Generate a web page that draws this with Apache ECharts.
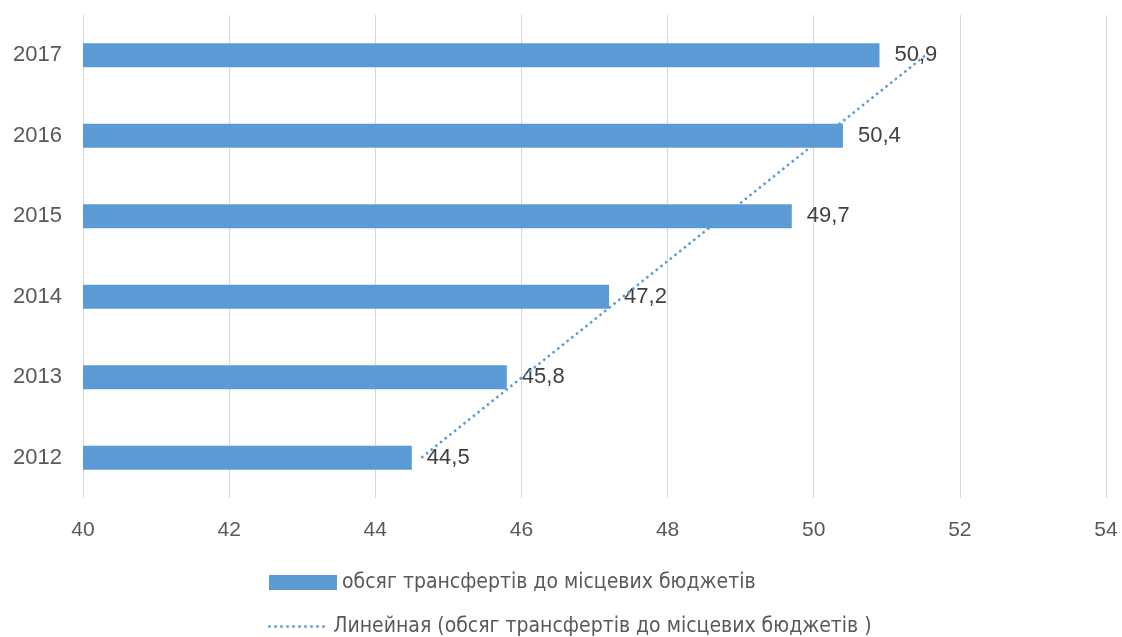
<!DOCTYPE html>
<html>
<head>
<meta charset="utf-8">
<style>
  html, body { margin: 0; padding: 0; background: #fff; }
  #chart { width: 1122px; height: 637px; }
</style>
<script src="https://cdn.jsdelivr.net/npm/echarts@6/dist/echarts.min.js"></script>
</head>
<body>
<div id="chart"></div>
<script>
// Years on the category axis (bottom to top)
const years = ['2012', '2013', '2014', '2015', '2016', '2017'];
// Volume of transfers to local budgets
const transfers = [44.5, 45.8, 47.2, 49.7, 50.4, 50.9];
// Linear trend line: values at the first and last year
const trendEnds = [44.63, 51.53];
// Value axis range and step
const axisMin = 40;
const axisMax = 54;
const axisStep = 2;

const barName = 'обсяг трансфертів до місцевих бюджетів';
const trendName = 'Линейная (обсяг трансфертів до місцевих бюджетів )';

const blue = '#5B9BD5';
const labelFont = 'Liberation Sans, Arial, sans-serif';
const legendFont = 'Liberation Sans Narrow, DejaVu Sans Condensed, Liberation Sans, sans-serif';

const chart = echarts.init(document.getElementById('chart'), null, { renderer: 'canvas' });

const legendText = { color: '#595959', fontSize: 21, fontFamily: legendFont };
const trendDash = [2.5, 3.5];

chart.setOption({
  animation: false,
  backgroundColor: '#ffffff',
  grid: { left: 83, right: 16, top: 15, bottom: 139, containLabel: false },
  xAxis: {
    type: 'value',
    min: axisMin,
    max: axisMax,
    interval: axisStep,
    axisLine: { show: false },
    axisTick: { show: false },
    splitLine: { show: true, lineStyle: { color: '#D9D9D9', width: 1 } },
    axisLabel: { color: '#595959', fontSize: 21, fontFamily: labelFont, margin: 22 }
  },
  yAxis: {
    type: 'category',
    data: years,
    axisLine: { show: false },
    axisTick: { show: false },
    splitLine: { show: false },
    axisLabel: { color: '#595959', fontSize: 22, fontFamily: labelFont, margin: 21 }
  },
  legend: [
    {
      left: 269,
      top: 572,
      padding: 0,
      itemWidth: 68,
      itemHeight: 15,
      itemGap: 0,
      textStyle: legendText,
      data: [{ name: barName, icon: 'rect' }]
    },
    {
      left: 267,
      top: 616,
      padding: 0,
      itemWidth: 60,
      itemHeight: 15,
      itemGap: 0,
      textStyle: legendText,
      data: [{
        name: trendName,
        itemStyle: { opacity: 0 },
        lineStyle: { color: blue, width: 2.5, type: trendDash }
      }]
    }
  ],
  series: [
    {
      name: barName,
      type: 'bar',
      data: transfers,
      barWidth: 24,
      itemStyle: { color: blue },
      label: {
        show: true,
        position: 'right',
        distance: 15,
        color: '#404040',
        fontSize: 22,
        fontFamily: labelFont,
        formatter: p => String(p.value).replace('.', ',')
      },
      z: 2
    },
    {
      name: trendName,
      type: 'line',
      data: [[trendEnds[0], 0], [trendEnds[1], years.length - 1]],
      showSymbol: false,
      symbol: 'none',
      lineStyle: { color: blue, width: 2.5, type: trendDash },
      itemStyle: { color: blue },
      z: 3
    }
  ]
});
</script>
</body>
</html>
